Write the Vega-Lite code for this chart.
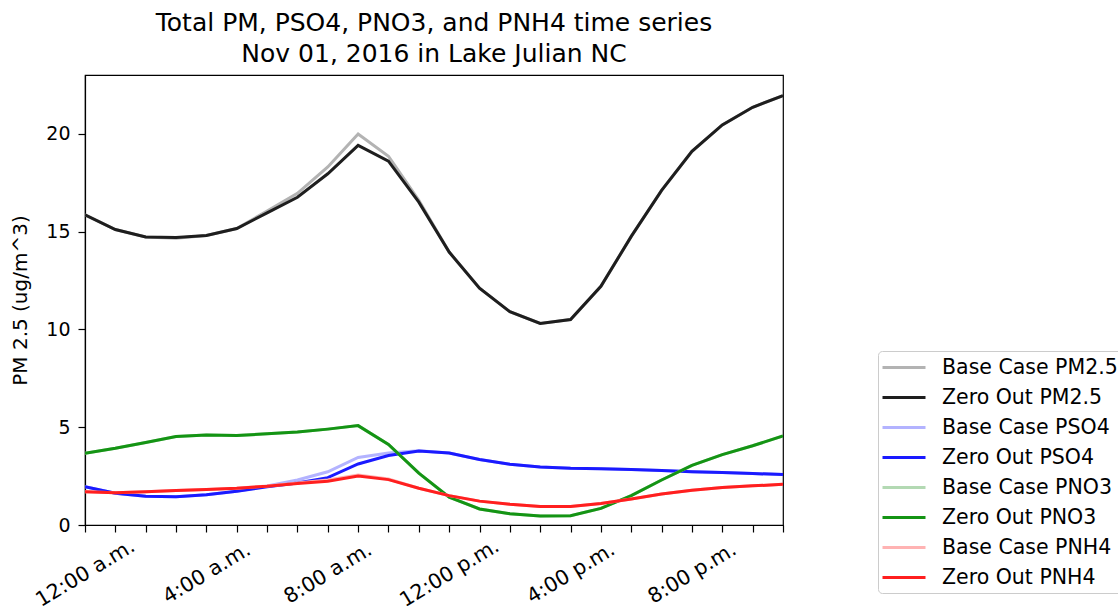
{
  "$schema": "https://vega.github.io/schema/vega-lite/v6.json",
  "width": 698,
  "height": 450,
  "autosize": {"type": "none"},
  "padding": {"left": 85, "top": 75, "right": 335, "bottom": 81},
  "background": "white",
  "title": {
    "text": ["Total PM, PSO4, PNO3, and PNH4 time series", "Nov 01, 2016 in Lake Julian NC"],
    "anchor": "middle",
    "font": "DejaVu Sans",
    "fontSize": 25,
    "fontWeight": "normal",
    "color": "black",
    "lineHeight": 31,
    "offset": 8
  },
  "config": {
    "view": {"stroke": "black", "strokeWidth": 1.2},
    "axis": {
      "labelFont": "DejaVu Sans",
      "titleFont": "DejaVu Sans",
      "labelColor": "black",
      "titleColor": "black",
      "domainColor": "black",
      "tickColor": "black",
      "grid": false
    }
  },
  "data": {
    "values": [
      {"s": "Base Case PM2.5", "h": 0, "v": 15.85}, {"s": "Base Case PM2.5", "h": 1, "v": 15.1}, {"s": "Base Case PM2.5", "h": 2, "v": 14.72}, {"s": "Base Case PM2.5", "h": 3, "v": 14.66}, {"s": "Base Case PM2.5", "h": 4, "v": 14.8}, {"s": "Base Case PM2.5", "h": 5, "v": 15.15}, {"s": "Base Case PM2.5", "h": 6, "v": 16.05}, {"s": "Base Case PM2.5", "h": 7, "v": 16.95}, {"s": "Base Case PM2.5", "h": 8, "v": 18.3}, {"s": "Base Case PM2.5", "h": 9, "v": 19.98}, {"s": "Base Case PM2.5", "h": 10, "v": 18.85}, {"s": "Base Case PM2.5", "h": 11, "v": 16.6}, {"s": "Base Case PM2.5", "h": 12, "v": 13.95}, {"s": "Base Case PM2.5", "h": 13, "v": 12.1}, {"s": "Base Case PM2.5", "h": 14, "v": 10.9}, {"s": "Base Case PM2.5", "h": 15, "v": 10.3}, {"s": "Base Case PM2.5", "h": 16, "v": 10.5}, {"s": "Base Case PM2.5", "h": 17, "v": 12.2}, {"s": "Base Case PM2.5", "h": 18, "v": 14.75}, {"s": "Base Case PM2.5", "h": 19, "v": 17.1}, {"s": "Base Case PM2.5", "h": 20, "v": 19.1}, {"s": "Base Case PM2.5", "h": 21, "v": 20.45}, {"s": "Base Case PM2.5", "h": 22, "v": 21.35}, {"s": "Base Case PM2.5", "h": 23, "v": 21.95},
      {"s": "Zero Out PM2.5", "h": 0, "v": 15.85}, {"s": "Zero Out PM2.5", "h": 1, "v": 15.1}, {"s": "Zero Out PM2.5", "h": 2, "v": 14.72}, {"s": "Zero Out PM2.5", "h": 3, "v": 14.7}, {"s": "Zero Out PM2.5", "h": 4, "v": 14.8}, {"s": "Zero Out PM2.5", "h": 5, "v": 15.15}, {"s": "Zero Out PM2.5", "h": 6, "v": 15.95}, {"s": "Zero Out PM2.5", "h": 7, "v": 16.75}, {"s": "Zero Out PM2.5", "h": 8, "v": 17.95}, {"s": "Zero Out PM2.5", "h": 9, "v": 19.4}, {"s": "Zero Out PM2.5", "h": 10, "v": 18.6}, {"s": "Zero Out PM2.5", "h": 11, "v": 16.5}, {"s": "Zero Out PM2.5", "h": 12, "v": 13.95}, {"s": "Zero Out PM2.5", "h": 13, "v": 12.1}, {"s": "Zero Out PM2.5", "h": 14, "v": 10.9}, {"s": "Zero Out PM2.5", "h": 15, "v": 10.3}, {"s": "Zero Out PM2.5", "h": 16, "v": 10.5}, {"s": "Zero Out PM2.5", "h": 17, "v": 12.2}, {"s": "Zero Out PM2.5", "h": 18, "v": 14.75}, {"s": "Zero Out PM2.5", "h": 19, "v": 17.1}, {"s": "Zero Out PM2.5", "h": 20, "v": 19.1}, {"s": "Zero Out PM2.5", "h": 21, "v": 20.45}, {"s": "Zero Out PM2.5", "h": 22, "v": 21.35}, {"s": "Zero Out PM2.5", "h": 23, "v": 21.95},
      {"s": "Base Case PSO4", "h": 0, "v": 1.96}, {"s": "Base Case PSO4", "h": 1, "v": 1.62}, {"s": "Base Case PSO4", "h": 2, "v": 1.47}, {"s": "Base Case PSO4", "h": 3, "v": 1.45}, {"s": "Base Case PSO4", "h": 4, "v": 1.55}, {"s": "Base Case PSO4", "h": 5, "v": 1.72}, {"s": "Base Case PSO4", "h": 6, "v": 2.0}, {"s": "Base Case PSO4", "h": 7, "v": 2.3}, {"s": "Base Case PSO4", "h": 8, "v": 2.72}, {"s": "Base Case PSO4", "h": 9, "v": 3.45}, {"s": "Base Case PSO4", "h": 10, "v": 3.68}, {"s": "Base Case PSO4", "h": 11, "v": 3.8}, {"s": "Base Case PSO4", "h": 12, "v": 3.68}, {"s": "Base Case PSO4", "h": 13, "v": 3.35}, {"s": "Base Case PSO4", "h": 14, "v": 3.1}, {"s": "Base Case PSO4", "h": 15, "v": 2.97}, {"s": "Base Case PSO4", "h": 16, "v": 2.9}, {"s": "Base Case PSO4", "h": 17, "v": 2.87}, {"s": "Base Case PSO4", "h": 18, "v": 2.84}, {"s": "Base Case PSO4", "h": 19, "v": 2.78}, {"s": "Base Case PSO4", "h": 20, "v": 2.72}, {"s": "Base Case PSO4", "h": 21, "v": 2.68}, {"s": "Base Case PSO4", "h": 22, "v": 2.63}, {"s": "Base Case PSO4", "h": 23, "v": 2.58},
      {"s": "Zero Out PSO4", "h": 0, "v": 1.96}, {"s": "Zero Out PSO4", "h": 1, "v": 1.62}, {"s": "Zero Out PSO4", "h": 2, "v": 1.47}, {"s": "Zero Out PSO4", "h": 3, "v": 1.45}, {"s": "Zero Out PSO4", "h": 4, "v": 1.55}, {"s": "Zero Out PSO4", "h": 5, "v": 1.72}, {"s": "Zero Out PSO4", "h": 6, "v": 1.95}, {"s": "Zero Out PSO4", "h": 7, "v": 2.15}, {"s": "Zero Out PSO4", "h": 8, "v": 2.42}, {"s": "Zero Out PSO4", "h": 9, "v": 3.12}, {"s": "Zero Out PSO4", "h": 10, "v": 3.55}, {"s": "Zero Out PSO4", "h": 11, "v": 3.78}, {"s": "Zero Out PSO4", "h": 12, "v": 3.68}, {"s": "Zero Out PSO4", "h": 13, "v": 3.35}, {"s": "Zero Out PSO4", "h": 14, "v": 3.1}, {"s": "Zero Out PSO4", "h": 15, "v": 2.97}, {"s": "Zero Out PSO4", "h": 16, "v": 2.9}, {"s": "Zero Out PSO4", "h": 17, "v": 2.87}, {"s": "Zero Out PSO4", "h": 18, "v": 2.84}, {"s": "Zero Out PSO4", "h": 19, "v": 2.78}, {"s": "Zero Out PSO4", "h": 20, "v": 2.72}, {"s": "Zero Out PSO4", "h": 21, "v": 2.68}, {"s": "Zero Out PSO4", "h": 22, "v": 2.63}, {"s": "Zero Out PSO4", "h": 23, "v": 2.58},
      {"s": "Base Case PNO3", "h": 0, "v": 3.66}, {"s": "Base Case PNO3", "h": 1, "v": 3.92}, {"s": "Base Case PNO3", "h": 2, "v": 4.22}, {"s": "Base Case PNO3", "h": 3, "v": 4.52}, {"s": "Base Case PNO3", "h": 4, "v": 4.6}, {"s": "Base Case PNO3", "h": 5, "v": 4.58}, {"s": "Base Case PNO3", "h": 6, "v": 4.66}, {"s": "Base Case PNO3", "h": 7, "v": 4.75}, {"s": "Base Case PNO3", "h": 8, "v": 4.9}, {"s": "Base Case PNO3", "h": 9, "v": 5.08}, {"s": "Base Case PNO3", "h": 10, "v": 4.12}, {"s": "Base Case PNO3", "h": 11, "v": 2.65}, {"s": "Base Case PNO3", "h": 12, "v": 1.42}, {"s": "Base Case PNO3", "h": 13, "v": 0.82}, {"s": "Base Case PNO3", "h": 14, "v": 0.58}, {"s": "Base Case PNO3", "h": 15, "v": 0.46}, {"s": "Base Case PNO3", "h": 16, "v": 0.47}, {"s": "Base Case PNO3", "h": 17, "v": 0.85}, {"s": "Base Case PNO3", "h": 18, "v": 1.5}, {"s": "Base Case PNO3", "h": 19, "v": 2.3}, {"s": "Base Case PNO3", "h": 20, "v": 3.05}, {"s": "Base Case PNO3", "h": 21, "v": 3.6}, {"s": "Base Case PNO3", "h": 22, "v": 4.05}, {"s": "Base Case PNO3", "h": 23, "v": 4.55},
      {"s": "Zero Out PNO3", "h": 0, "v": 3.66}, {"s": "Zero Out PNO3", "h": 1, "v": 3.92}, {"s": "Zero Out PNO3", "h": 2, "v": 4.22}, {"s": "Zero Out PNO3", "h": 3, "v": 4.52}, {"s": "Zero Out PNO3", "h": 4, "v": 4.6}, {"s": "Zero Out PNO3", "h": 5, "v": 4.58}, {"s": "Zero Out PNO3", "h": 6, "v": 4.66}, {"s": "Zero Out PNO3", "h": 7, "v": 4.75}, {"s": "Zero Out PNO3", "h": 8, "v": 4.9}, {"s": "Zero Out PNO3", "h": 9, "v": 5.08}, {"s": "Zero Out PNO3", "h": 10, "v": 4.12}, {"s": "Zero Out PNO3", "h": 11, "v": 2.65}, {"s": "Zero Out PNO3", "h": 12, "v": 1.42}, {"s": "Zero Out PNO3", "h": 13, "v": 0.82}, {"s": "Zero Out PNO3", "h": 14, "v": 0.58}, {"s": "Zero Out PNO3", "h": 15, "v": 0.46}, {"s": "Zero Out PNO3", "h": 16, "v": 0.47}, {"s": "Zero Out PNO3", "h": 17, "v": 0.85}, {"s": "Zero Out PNO3", "h": 18, "v": 1.5}, {"s": "Zero Out PNO3", "h": 19, "v": 2.3}, {"s": "Zero Out PNO3", "h": 20, "v": 3.05}, {"s": "Zero Out PNO3", "h": 21, "v": 3.6}, {"s": "Zero Out PNO3", "h": 22, "v": 4.05}, {"s": "Zero Out PNO3", "h": 23, "v": 4.55},
      {"s": "Base Case PNH4", "h": 0, "v": 1.7}, {"s": "Base Case PNH4", "h": 1, "v": 1.65}, {"s": "Base Case PNH4", "h": 2, "v": 1.7}, {"s": "Base Case PNH4", "h": 3, "v": 1.76}, {"s": "Base Case PNH4", "h": 4, "v": 1.82}, {"s": "Base Case PNH4", "h": 5, "v": 1.88}, {"s": "Base Case PNH4", "h": 6, "v": 1.99}, {"s": "Base Case PNH4", "h": 7, "v": 2.15}, {"s": "Base Case PNH4", "h": 8, "v": 2.3}, {"s": "Base Case PNH4", "h": 9, "v": 2.55}, {"s": "Base Case PNH4", "h": 10, "v": 2.35}, {"s": "Base Case PNH4", "h": 11, "v": 1.88}, {"s": "Base Case PNH4", "h": 12, "v": 1.5}, {"s": "Base Case PNH4", "h": 13, "v": 1.22}, {"s": "Base Case PNH4", "h": 14, "v": 1.06}, {"s": "Base Case PNH4", "h": 15, "v": 0.95}, {"s": "Base Case PNH4", "h": 16, "v": 0.95}, {"s": "Base Case PNH4", "h": 17, "v": 1.1}, {"s": "Base Case PNH4", "h": 18, "v": 1.33}, {"s": "Base Case PNH4", "h": 19, "v": 1.58}, {"s": "Base Case PNH4", "h": 20, "v": 1.78}, {"s": "Base Case PNH4", "h": 21, "v": 1.92}, {"s": "Base Case PNH4", "h": 22, "v": 2.0}, {"s": "Base Case PNH4", "h": 23, "v": 2.08},
      {"s": "Zero Out PNH4", "h": 0, "v": 1.7}, {"s": "Zero Out PNH4", "h": 1, "v": 1.65}, {"s": "Zero Out PNH4", "h": 2, "v": 1.7}, {"s": "Zero Out PNH4", "h": 3, "v": 1.76}, {"s": "Zero Out PNH4", "h": 4, "v": 1.82}, {"s": "Zero Out PNH4", "h": 5, "v": 1.88}, {"s": "Zero Out PNH4", "h": 6, "v": 1.98}, {"s": "Zero Out PNH4", "h": 7, "v": 2.12}, {"s": "Zero Out PNH4", "h": 8, "v": 2.24}, {"s": "Zero Out PNH4", "h": 9, "v": 2.5}, {"s": "Zero Out PNH4", "h": 10, "v": 2.32}, {"s": "Zero Out PNH4", "h": 11, "v": 1.88}, {"s": "Zero Out PNH4", "h": 12, "v": 1.5}, {"s": "Zero Out PNH4", "h": 13, "v": 1.22}, {"s": "Zero Out PNH4", "h": 14, "v": 1.06}, {"s": "Zero Out PNH4", "h": 15, "v": 0.95}, {"s": "Zero Out PNH4", "h": 16, "v": 0.95}, {"s": "Zero Out PNH4", "h": 17, "v": 1.1}, {"s": "Zero Out PNH4", "h": 18, "v": 1.33}, {"s": "Zero Out PNH4", "h": 19, "v": 1.58}, {"s": "Zero Out PNH4", "h": 20, "v": 1.78}, {"s": "Zero Out PNH4", "h": 21, "v": 1.92}, {"s": "Zero Out PNH4", "h": 22, "v": 2.0}, {"s": "Zero Out PNH4", "h": 23, "v": 2.08}
    ]
  },
  "mark": {"type": "line", "strokeWidth": 3, "clip": true},
  "encoding": {
    "x": {
      "field": "h",
      "type": "quantitative",
      "scale": {"domain": [0, 23], "nice": false, "zero": false},
      "axis": {
        "title": null,
        "values": [0,1,2,3,4,5,6,7,8,9,10,11,12,13,14,15,16,17,18,19,20,21,22,23],
        "labelExpr": "datum.value == 0 ? '12:00 a.m.' : datum.value == 4 ? '4:00 a.m.' : datum.value == 8 ? '8:00 a.m.' : datum.value == 12 ? '12:00 p.m.' : datum.value == 16 ? '4:00 p.m.' : datum.value == 20 ? '8:00 p.m.' : ''",
        "labelAngle": -31,
        "labelAlign": "center",
        "labelBaseline": "middle",
        "labelPadding": 41,
        "labelFontSize": 20.5,
        "labelOverlap": false,
        "labelFlush": false,
        "tickSize": 7,
        "tickWidth": 1.2,
        "domainWidth": 1.2
      }
    },
    "y": {
      "field": "v",
      "type": "quantitative",
      "scale": {"domain": [0, 23], "nice": false},
      "axis": {
        "title": "PM 2.5 (ug/m^3)",
        "titleFontSize": 20,
        "titleFontWeight": "normal",
        "titlePadding": 15,
        "values": [0, 5, 10, 15, 20],
        "labelFontSize": 19,
        "labelPadding": 8,
        "tickSize": 7,
        "tickWidth": 1.2,
        "domainWidth": 1.2
      }
    },
    "color": {
      "field": "s",
      "type": "nominal",
      "sort": null,
      "scale": {
        "domain": ["Base Case PM2.5", "Zero Out PM2.5", "Base Case PSO4", "Zero Out PSO4", "Base Case PNO3", "Zero Out PNO3", "Base Case PNH4", "Zero Out PNH4"],
        "range": ["#b3b3b3", "#1e1e1e", "#b3b3ff", "#1a1aff", "#b3d9b3", "#149414", "#ffb3b3", "#ff1f1f"]
      },
      "legend": {
        "title": null,
        "orient": "none",
        "legendX": 793,
        "legendY": 276,
        "symbolType": "M-1.2,0H3.1",
        "symbolStrokeWidth": 3,
        "symbolSize": 400,
        "labelFont": "DejaVu Sans",
        "labelFontSize": 20.5,
        "labelColor": "black",
        "labelOffset": 36,
        "rowPadding": 8,
        "padding": 5,
        "strokeColor": "#cccccc",
        "fillColor": "white",
        "cornerRadius": 4,
        "labelLimit": 300
      }
    }
  }
}
